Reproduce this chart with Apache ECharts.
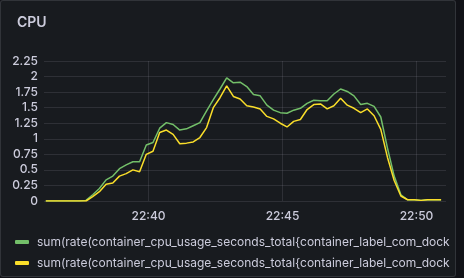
<!DOCTYPE html>
<html>
<head>
<meta charset="utf-8">
<script src="https://cdn.jsdelivr.net/npm/echarts@6/dist/echarts.min.js"></script>
<style>
html,body{margin:0;padding:0;background:#111217;width:464px;height:278px;overflow:hidden;}
#panel{position:absolute;left:0;top:0;width:454px;height:275px;border:1px solid rgba(204,204,220,0.14);border-radius:3px;background:#181b1f;overflow:hidden;}
#chart{position:absolute;left:-1px;top:-1px;width:464px;height:278px;}
</style>
</head>
<body>
<div id="panel"><div id="chart"></div></div>
<script>
const title = "CPU";
const seriesNames = [
  "sum(rate(container_cpu_usage_seconds_total{container_label_com_docker_swarm_service_name=~\"$service\"}[1m]))",
  "sum(rate(container_cpu_usage_seconds_total{container_label_com_docker_swarm_task_name=~\"$service.*\"}[1m]))"
];
// time in seconds after 22:00
const startSec = 36*60 + 10;
const stepSec = 15;
const axisMinSec = 36*60 + 6;
const axisMaxSec = 51*60 + 6;
const xTickSec = [40*60, 45*60, 50*60];
const greenValues = [0,0,0,0,0,0,0.01,0.1,0.2,0.34,0.4,0.52,0.58,0.63,0.63,0.9,0.94,1.17,1.26,1.23,1.14,1.16,1.21,1.26,1.45,1.63,1.8,1.98,1.9,1.91,1.84,1.71,1.69,1.54,1.46,1.42,1.41,1.46,1.49,1.57,1.62,1.61,1.61,1.72,1.8,1.76,1.69,1.55,1.57,1.52,1.35,0.85,0.4,0.1,0.02,0.02,0.01,0.02,0.02,0.02];
const yellowValues = [0,0,0,0,0,0,0,0.07,0.15,0.27,0.29,0.4,0.44,0.5,0.47,0.75,0.8,1.1,1.14,1.07,0.92,0.93,0.95,1.02,1.18,1.5,1.66,1.85,1.68,1.64,1.53,1.51,1.48,1.36,1.32,1.25,1.19,1.28,1.31,1.47,1.55,1.56,1.48,1.53,1.65,1.54,1.49,1.42,1.48,1.37,1.15,0.7,0.33,0.08,0.02,0.02,0.01,0.02,0.02,0.02];
const colors = ["#73bf69", "#fade2a"];

function pair(vals){ return vals.map((v,i)=>[startSec + i*stepSec, v]); }
function hhmm(s){ const m = Math.round(s/60); return '22:' + String(m).padStart(2,'0'); }

const chart = echarts.init(document.getElementById('chart'), null, {renderer:'canvas'});
const txt = '#ccccdc';
const gridCol = 'rgba(204,204,220,0.12)';
chart.setOption({
  backgroundColor: 'transparent',
  animation: false,
  textStyle: {fontFamily: 'Inter'},
  title: {text: title, left: 12, top: 11, textStyle: {color: txt, fontSize: 14, fontWeight: 600, fontFamily: 'Inter'}},
  grid: {left: 44, right: 18, top: 61, bottom: 77},
  xAxis: {
    type: 'value', min: axisMinSec, max: axisMaxSec,
    axisLine: {show: false}, axisTick: {show: false},
    axisLabel: {show: false},
    splitLine: {show: false}
  },
  yAxis: {
    type: 'value', min: 0, max: 2.25, interval: 0.25,
    axisLine: {show: false}, axisTick: {show: false},
    axisLabel: {color: txt, fontSize: 12, margin: 6, fontWeight: 500},
    splitLine: {lineStyle: {color: gridCol, width: 1}}
  },
  legend: {
    orient: 'vertical', left: 10, top: 231, itemGap: 9,
    icon: 'roundRect', itemWidth: 14, itemHeight: 4,
    textStyle: {color: txt, fontSize: 12, padding: [0,0,0,3], width: 419, overflow: 'truncate', ellipsis: ''},
    data: seriesNames
  },
  series: [
    {name: seriesNames[0], type: 'line', data: pair(greenValues), showSymbol: false, color: colors[0], lineStyle: {width: 1.5}, z: 3,
     markLine: {silent: true, symbol: 'none', z: 1,
       label: {show: true, position: 'start', distance: 9, color: txt, fontSize: 12, fontWeight: 500, fontFamily: 'Inter',
         formatter: (p)=>hhmm(p.value)},
       lineStyle: {color: gridCol, type: 'solid', width: 1},
       data: xTickSec.map(s=>({xAxis: s}))}},
    {name: seriesNames[1], type: 'line', data: pair(yellowValues), showSymbol: false, color: colors[1], lineStyle: {width: 1.5}, z: 3}
  ]
});
</script>
</body>
</html>
